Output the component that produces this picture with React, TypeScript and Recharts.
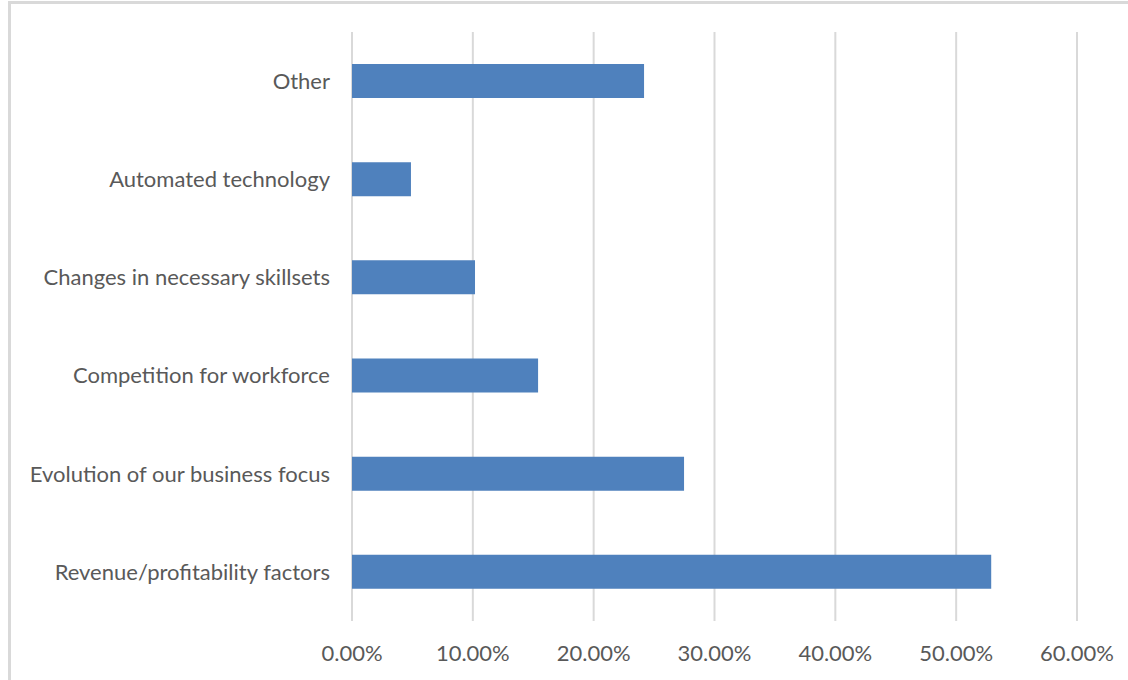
import { Bar, BarChart, CartesianGrid, XAxis, YAxis } from "recharts"

const categories = [
  "Other",
  "Automated technology",
  "Changes in necessary skillsets",
  "Competition for workforce",
  "Evolution of our business focus",
  "Revenue/profitability factors",
]
const shares = [0.2417, 0.0488, 0.1018, 0.154, 0.2748, 0.529]
const xTicks = [0, 0.1, 0.2, 0.3, 0.4, 0.5, 0.6]

const data = categories.map((name, i) => ({ name, value: shares[i] }))

const font = "Lato, 'Open Sans', sans-serif"

export default function App() {
  return (
    <div
      style={{
        position: "absolute",
        left: 8,
        top: 1,
        width: 1124,
        height: 683,
        border: "3px solid #d9d9d9",
        background: "#fff",
        fontFamily: font,
      }}
    >
      <BarChart
        width={1117}
        height={676}
        data={data}
        layout="vertical"
        margin={{ top: 28, right: 51, left: 0, bottom: 0 }}
      >
        <CartesianGrid horizontal={false} stroke="#d9d9d9" strokeWidth={2} />
        <XAxis
          type="number"
          domain={[0, 0.6]}
          ticks={xTicks}
          tickFormatter={(v: number) => `${(v * 100).toFixed(2)}%`}
          tick={{ fill: "#595959", fontSize: 22, fontFamily: font }}
          axisLine={false}
          tickLine={false}
          tickMargin={18}
          height={59}
          interval={0}
        />
        <YAxis
          type="category"
          dataKey="name"
          width={341}
          tick={{ fill: "#595959", fontSize: 22, fontFamily: font }}
          axisLine={false}
          tickLine={false}
          tickMargin={16}
          interval={0}
        />
        <Bar dataKey="value" fill="#4f81bd" barSize={34} isAnimationActive={false} />
      </BarChart>
    </div>
  )
}
